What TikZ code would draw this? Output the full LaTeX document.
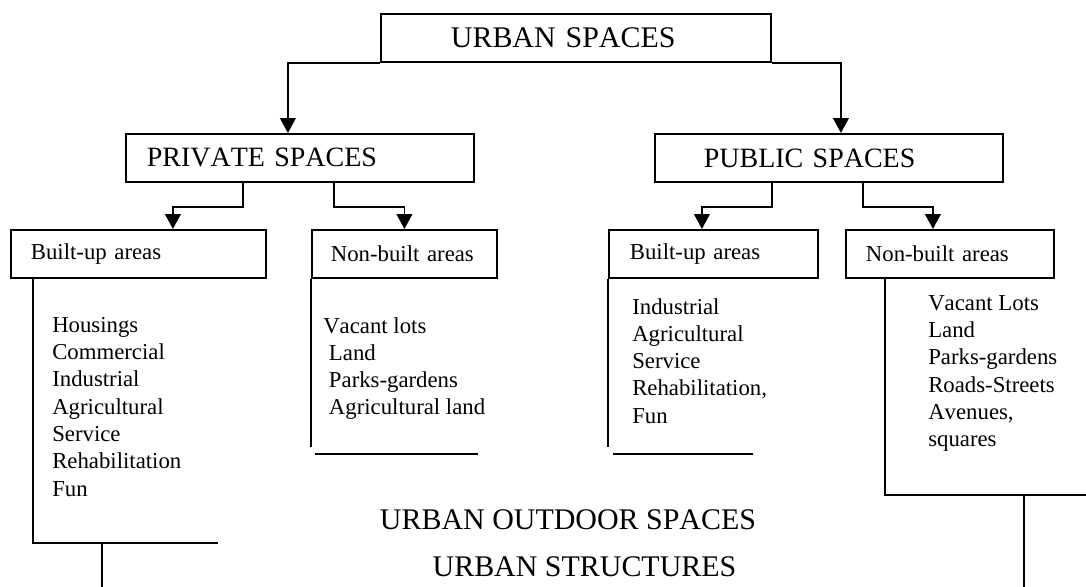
\documentclass[tikz,border=0pt]{standalone}
\usepackage{fontspec}
\setmainfont{Liberation Serif}[Kerning=Off]
\usepackage{tikz}
\usetikzlibrary{arrows.meta}

\begin{document}
\begin{tikzpicture}[
        box/.style={draw, line width=1.3pt, anchor=north west, minimum height=1.2cm, inner ysep=0pt, align=left},
        big/.style={font=\fontsize{21.3}{25}\selectfont},
        mid/.style={font=\fontsize{19.9}{24}\selectfont},
        small/.style={font=\fontsize{16.2}{19.4}\selectfont},
        lst/.style={small, anchor=north west, inner sep=0pt, align=left},
        arr/.style={line width=1.3pt, -{Triangle[length=10.5pt,width=11pt]}},
        ln/.style={line width=1.3pt}]
        \useasboundingbox (0,0) rectangle (27.15,-14.65);
        \node[box, big, text width=6.25cm, inner xsep=1.75cm] (urban) at (9.5,-0.325) {URBAN SPACES};
        \node[box, mid, text width=7.65cm, inner xsep=0.525cm] (private) at (3.125,-3.325) {PRIVATE SPACES};
        \node[box, mid, text width=6.25cm, inner xsep=1.225cm] (public) at (16.35,-3.325) {PUBLIC SPACES};
        \node[box, small, text width=5.375cm, inner xsep=0.5cm] (privbuilt) at (0.25,-5.725) {Built-up areas};
        \node[box, small, text width=3.675cm, inner xsep=0.475cm] (privopen) at (7.775,-5.725) {Non-built areas};
        \node[box, small, text width=4.175cm, inner xsep=0.525cm] (pubbuilt) at (15.2,-5.725) {Built-up areas};
        \node[box, small, text width=4.2cm, inner xsep=0.5cm] (pubopen) at (21.125,-5.725) {Non-built areas};
        \draw[arr] (urban.south west) -| ([xshift=-0.3cm]private.north);
        \draw[arr] (urban.south east) -| ([xshift=0.3cm]public.north);
        \draw[arr] ([xshift=-1.425cm]private.south) -- ++(0,-0.6) -| ([xshift=0.8625cm]privbuilt.north);
        \draw[arr] ([xshift=0.85cm]private.south) -- ++(0,-0.6) -| (privopen.north);
        \draw[arr] ([xshift=-1.425cm]public.south) -- ++(0,-0.6) -| ([xshift=-0.2875cm]pubbuilt.north);
        \draw[arr] ([xshift=0.85cm]public.south) -- ++(0,-0.6) -| ([xshift=-0.425cm]pubopen.north);
        \node[lst] (privbuiltlist) at (1.3,-7.925) {Housings\\Commercial\\Industrial\\Agricultural\\Service\\Rehabilitation\\Fun};
        \node[lst] (privopenlist) at (8.075,-7.925) {Vacant lots\\\hspace*{0.25em}Land\\\hspace*{0.25em}Parks-gardens\\\hspace*{0.25em}Agricultural land};
        \node[lst] (pubbuiltlist) at (15.8,-7.45) {Industrial\\Agricultural\\Service\\Rehabilitation,\\Fun};
        \node[lst] (pubopenlist) at (23.2,-7.375) {Vacant Lots\\Land\\Parks-gardens\\Roads-Streets\\Avenues,\\squares};
        \node[big] (outdoor) at (14.2,-13.0) {URBAN OUTDOOR SPACES};
        \node[big] (structures) at (14.6125,-14.175) {URBAN STRUCTURES};
        \draw[ln] ([xshift=0.575cm]privbuilt.south west) -- ++(0,-6.6) coordinate (privbase) -- ++(4.625,0);
        \draw[ln] ([xshift=1.725cm]privbase) -- ++(0,-1.2);
        \draw[ln] (privopen.south west) -- ++(0,-4.2);
        \draw[ln] ([shift={(0.1,-4.375)}]privopen.south west) -- ++(4.075,0);
        \draw[ln] (pubbuilt.south west) -- ++(0,-4.2);
        \draw[ln] ([shift={(0.125,-4.375)}]pubbuilt.south west) -- ++(3.5,0);
        \draw[ln] ([xshift=1cm]pubopen.south west) -- ++(0,-5.4) coordinate (pubbase) -- ++(5.1,0);
        \draw[ln] ([xshift=3.475cm]pubbase) -- ++(0,-2.4);
    \end{tikzpicture}
\end{document}
